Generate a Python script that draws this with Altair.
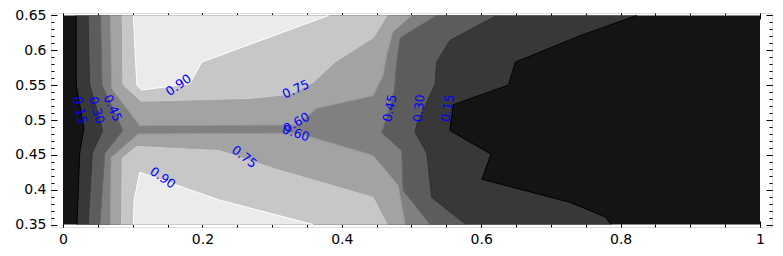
import altair as alt
import pandas as pd

# ---------------- data ----------------
X_EXTENT = [0.0, 1.0]
Y_EXTENT = [0.35, 0.65]

levels = [0.15, 0.30, 0.45, 0.60, 0.75, 0.90]
band_colors = ["#141414", "#383838", "#5c5c5c", "#808080", "#a3a3a3", "#c7c7c7", "#ebebeb"]
line_colors = ["#000000", "#333333", "#666666", "#999999", "#cccccc", "#ffffff"]

# left-hand contours (top edge -> bottom edge)
c015_left_x = [0.019, 0.019, 0.030, 0.024, 0.020]
c015_left_y = [0.650, 0.550, 0.488, 0.453, 0.350]
c030_left_x = [0.036, 0.038, 0.057, 0.042, 0.036]
c030_left_y = [0.650, 0.552, 0.485, 0.453, 0.350]
c045_left_x = [0.054, 0.056, 0.086, 0.060, 0.053]
c045_left_y = [0.650, 0.550, 0.485, 0.452, 0.350]

# right-hand contours (top edge -> bottom edge)
c045_right_x = [0.536, 0.484, 0.479, 0.475, 0.460, 0.457, 0.486, 0.488, 0.527]
c045_right_y = [0.650, 0.618, 0.585, 0.540, 0.489, 0.482, 0.456, 0.399, 0.350]
c030_right_x = [0.622, 0.555, 0.536, 0.534, 0.508, 0.505, 0.522, 0.529, 0.578]
c030_right_y = [0.650, 0.614, 0.583, 0.552, 0.495, 0.483, 0.452, 0.389, 0.350]
c015_right_x = [0.823, 0.742, 0.649, 0.639, 0.560, 0.555, 0.614, 0.601, 0.727, 0.778, 0.786]
c015_right_y = [0.650, 0.621, 0.583, 0.550, 0.522, 0.485, 0.451, 0.415, 0.382, 0.361, 0.350]

# upper contours (top edge -> top edge) and lower ones (bottom edge -> bottom edge)
c060_top_x = [0.068, 0.070, 0.110, 0.336, 0.364, 0.445, 0.459, 0.465, 0.473, 0.500]
c060_top_y = [0.650, 0.545, 0.492, 0.493, 0.517, 0.535, 0.564, 0.596, 0.626, 0.650]
c060_bot_x = [0.068, 0.069, 0.108, 0.336, 0.364, 0.445, 0.481, 0.491]
c060_bot_y = [0.350, 0.446, 0.480, 0.481, 0.473, 0.449, 0.406, 0.350]
c075_top_x = [0.085, 0.086, 0.112, 0.268, 0.326, 0.359, 0.390, 0.445, 0.465]
c075_top_y = [0.650, 0.551, 0.527, 0.531, 0.537, 0.554, 0.583, 0.618, 0.650]
c075_bot_x = [0.084, 0.085, 0.106, 0.225, 0.307, 0.445, 0.465]
c075_bot_y = [0.350, 0.445, 0.462, 0.456, 0.429, 0.389, 0.350]
c090_top_x = [0.101, 0.106, 0.113, 0.182, 0.199, 0.381]
c090_top_y = [0.650, 0.550, 0.543, 0.552, 0.583, 0.650]
c090_bot_x = [0.101, 0.102, 0.110, 0.225, 0.359]
c090_bot_y = [0.350, 0.385, 0.425, 0.385, 0.350]

# inline contour labels
label_text = ["0.15", "0.30", "0.45", "0.90", "0.90", "0.75", "0.75", "0.60", "0.60", "0.45", "0.30", "0.15"]
label_x = [0.024, 0.048, 0.071, 0.166, 0.143, 0.334, 0.260, 0.335, 0.334, 0.469, 0.511, 0.552]
label_y = [0.514, 0.514, 0.517, 0.550, 0.417, 0.544, 0.447, 0.496, 0.481, 0.517, 0.517, 0.517]
label_angle = [78, 74, 66, 325, 35, 335, 38, 330, 18, 282, 276, 280]

# axis ticks
x_major = [0, 0.2, 0.4, 0.6, 0.8, 1.0]
x_minor = [round(0.05 * i, 2) for i in range(21)]
y_major = [0.35, 0.40, 0.45, 0.50, 0.55, 0.60, 0.65]
y_minor = [round(0.35 + 0.01 * i, 2) for i in range(31)]

# ---------------- build tables ----------------
curves = {
    "c015L": (0.15, c015_left_x, c015_left_y),
    "c030L": (0.30, c030_left_x, c030_left_y),
    "c045L": (0.45, c045_left_x, c045_left_y),
    "c045R": (0.45, c045_right_x, c045_right_y),
    "c030R": (0.30, c030_right_x, c030_right_y),
    "c015R": (0.15, c015_right_x, c015_right_y),
    "c060T": (0.60, c060_top_x, c060_top_y),
    "c060B": (0.60, c060_bot_x, c060_bot_y),
    "c075T": (0.75, c075_top_x, c075_top_y),
    "c075B": (0.75, c075_bot_x, c075_bot_y),
    "c090T": (0.90, c090_top_x, c090_top_y),
    "c090B": (0.90, c090_bot_x, c090_bot_y),
}


def poly(name, xs, ys):
    return pd.DataFrame({"poly": name, "i": list(range(len(xs))), "x": xs, "y": ys})


def between(left, right):
    lx, ly = left
    rx, ry = right
    return list(lx) + list(rx[::-1]), list(ly) + list(ry[::-1])


band_polys = [
    [("full", [X_EXTENT[0], X_EXTENT[1], X_EXTENT[1], X_EXTENT[0]],
      [Y_EXTENT[1], Y_EXTENT[1], Y_EXTENT[0], Y_EXTENT[0]])],
    [("b2", *between((c015_left_x, c015_left_y), (c015_right_x, c015_right_y)))],
    [("b3", *between((c030_left_x, c030_left_y), (c030_right_x, c030_right_y)))],
    [("b4", *between((c045_left_x, c045_left_y), (c045_right_x, c045_right_y)))],
    [("b5t", c060_top_x, c060_top_y), ("b5b", c060_bot_x, c060_bot_y)],
    [("b6t", c075_top_x, c075_top_y), ("b6b", c075_bot_x, c075_bot_y)],
    [("b7t", c090_top_x, c090_top_y), ("b7b", c090_bot_x, c090_bot_y)],
]

line_rows = []
for name, (lev, xs, ys) in curves.items():
    for i, (xv, yv) in enumerate(zip(xs, ys)):
        line_rows.append({"curve": name, "level": f"{lev:.2f}", "i": i, "x": xv, "y": yv})
lines_df = pd.DataFrame(line_rows)

labels_df = pd.DataFrame({"t": label_text, "x": label_x, "y": label_y, "a": label_angle})
extent_df = pd.DataFrame({"x": X_EXTENT, "y": Y_EXTENT})

# ---------------- scales / axes ----------------
XS = alt.Scale(domain=[-0.0172, 1.0172], nice=False, zero=False)
YS = alt.Scale(domain=[0.3465, 0.6535], nice=False, zero=False)
FONT = "DejaVu Sans"


def ax(orient, values, size, labels):
    return alt.Axis(orient=orient, values=values, tickSize=size, offset=-size,
                    domain=False, grid=False, labels=labels, labelPadding=5,
                    labelFontSize=14, labelFont=FONT, labelColor="black",
                    tickColor="black", tickWidth=1, title=None, format="~g",
                    labelFlush=False, labelOverlap=False)


layers = []
for k, polys in enumerate(band_polys):
    df = pd.concat([poly(n, xs, ys) for n, xs, ys in polys])
    layers.append(
        alt.Chart(df).mark_line(fill=band_colors[k], strokeWidth=0, strokeOpacity=0)
        .encode(x=alt.X("x:Q", scale=XS, axis=None), y=alt.Y("y:Q", scale=YS, axis=None),
                order="i:Q", detail="poly:N")
    )

layers.append(
    alt.Chart(lines_df).mark_line(strokeWidth=1)
    .encode(x=alt.X("x:Q", scale=XS, axis=None), y=alt.Y("y:Q", scale=YS, axis=None),
            order="i:Q", detail="curve:N",
            stroke=alt.Stroke("level:N", scale=alt.Scale(domain=[f"{l:.2f}" for l in levels],
                                                          range=line_colors), legend=None))
)

layers.append(
    alt.Chart(labels_df).mark_text(font=FONT, fontSize=12.5, color="#0000ff",
                                   align="center", baseline="middle")
    .encode(x=alt.X("x:Q", scale=XS, axis=None), y=alt.Y("y:Q", scale=YS, axis=None),
            text="t:N", angle=alt.Angle("a:Q", scale=None))
)

axis_specs = [
    ("bottom", x_major, 6, True, "left", y_major, 6, True),
    ("top", x_major, 6, False, "right", y_major, 6, False),
    ("bottom", x_minor, 3, False, "left", y_minor, 3, False),
    ("top", x_minor, 3, False, "right", y_minor, 3, False),
]
for xo, xv, xsz, xl, yo, yv, ysz, yl in axis_specs:
    layers.append(
        alt.Chart(extent_df).mark_point(opacity=0)
        .encode(x=alt.X("x:Q", scale=XS, axis=ax(xo, xv, xsz, xl)),
                y=alt.Y("y:Q", scale=YS, axis=ax(yo, yv, ysz, yl)))
    )

chart = (
    alt.layer(*layers)
    .resolve_axis(x="independent", y="independent")
    .properties(width=721, height=214, autosize=alt.AutoSizeParams(type="none"),
                padding={"left": 43, "top": 5, "right": 3, "bottom": 20})
    .configure_view(stroke="black", strokeWidth=1)
    .configure(background="white")
)

chart.save("out.html", embed_options={"renderer": "svg", "actions": False})
